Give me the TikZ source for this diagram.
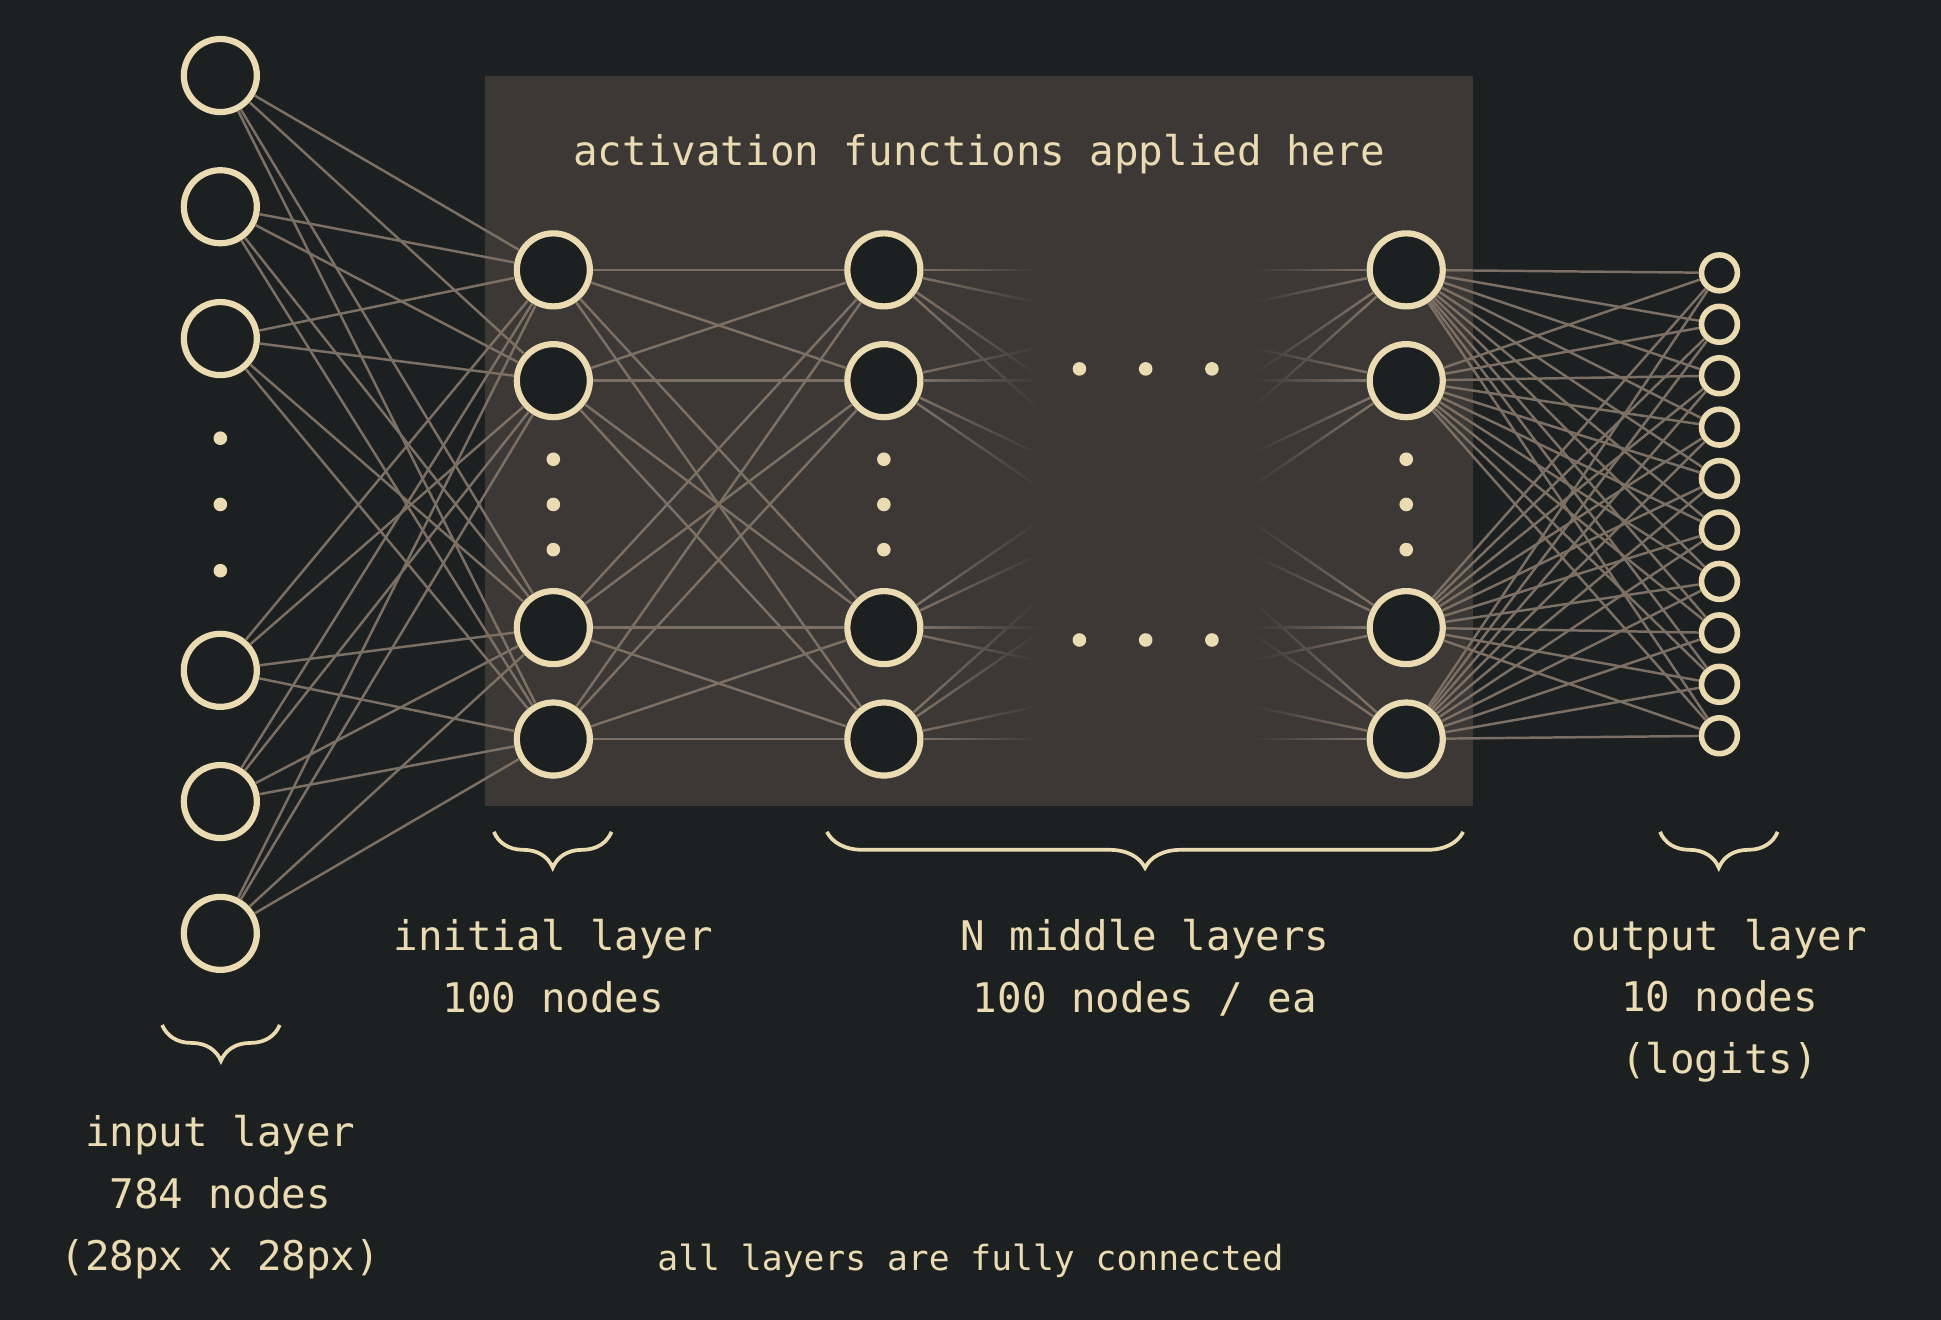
\documentclass[tikz,border=0pt]{standalone}
\usepackage{fontspec}
\setmainfont{DejaVu Sans Mono}
\usetikzlibrary{decorations.pathreplacing,fadings}

\definecolor{bgdark}{HTML}{1D2021}
\definecolor{boxgray}{HTML}{3C3836}
\definecolor{wirecol}{HTML}{7C6F64}
\definecolor{cream}{HTML}{EBDBB2}

\tikzfading[name=fade in right, left color=transparent!100, right color=transparent!0]
\tikzfading[name=fade out right, left color=transparent!0, right color=transparent!100]

\begin{document}
\begin{tikzpicture}[x=1pt,y=-1pt,
  neuron/.style={circle,draw=cream,fill=bgdark,line width=5pt,minimum size=59pt,inner sep=0pt},
  logit/.style={circle,draw=cream,fill=bgdark,line width=4.5pt,minimum size=29pt,inner sep=0pt},
  wire/.style={draw=wirecol,line width=2pt},
  blob/.style={fill=cream},
  lbl/.style={text=cream,font=\fontsize{33}{50}\selectfont,align=center,inner sep=0pt},
  curly/.style={draw=cream,line width=3pt,decorate,decoration={brace,mirror,amplitude=29pt}}]

% background and hidden-layer box
\fill[bgdark] (0,0) rectangle (1568,1066.3);
\fill[boxgray] (392,61.5) rectangle (1190,651.5);
\node[lbl,anchor=base] (title) at (791,134) {activation functions applied here};

% layers
\foreach \y [count=\i] in {61,167,273.5,541.5,647.5,754}
  \node[neuron] (in-\i) at (178,\y) {};
\foreach \y [count=\i] in {218,307.5,507,597}{
  \node[neuron] (ini-\i) at (447,\y) {};
  \node[neuron] (mida-\i) at (714,\y) {};
  \node[neuron] (midb-\i) at (1136,\y) {};
}
\foreach \i in {1,...,10}
  \node[logit] (out-\i) at (1389,{220.4+41.55*(\i-1)}) {};

% connections
\foreach \i in {1,...,6}
  \foreach \j in {1,...,4}
    \draw[wire] (in-\i) -- (ini-\j);
\foreach \i in {1,...,4}
  \foreach \j in {1,...,4}{
    \draw[wire] (ini-\i) -- (mida-\j);
    \draw[wire] (mida-\i) -- (midb-\j);
  }
\foreach \i in {1,...,4}
  \foreach \j in {1,...,10}
    \draw[wire] (midb-\i) -- (out-\j);

% fade the middle connections out
\fill[boxgray,path fading=fade in right] (748,190) rectangle (840,630);
\fill[boxgray] (840,190) rectangle (1012,630);
\fill[boxgray,path fading=fade out right] (1012,190) rectangle (1102,630);

% dots
\foreach \y in {354,407.5,461}
  \fill[blob] (178,\y) circle (5.5);
\foreach \x in {447,714,1136}
  \foreach \y in {371,407.5,444}
    \fill[blob] (\x,\y) circle (5.5);
\foreach \x in {872,925.5,979}{
  \fill[blob] (\x,298) circle (5.5);
  \fill[blob] (\x,517) circle (5.5);
}

% braces
\draw[curly] (131,828) -- (226,828);
\draw[curly] (399,672) -- (494,672);
\draw[curly] (668,672) -- (1182,672);
\draw[curly] (1341,672) -- (1436,672);

% labels (base = last line)
\node[lbl,anchor=base] (lblin) at (178,1026) {input layer\\784 nodes\\(28px x 28px)};
\node[lbl,anchor=base] (lblini) at (447,818) {initial layer\\100 nodes};
\node[lbl,anchor=base] (lblmid) at (925,818) {N middle layers\\100 nodes / ea};
\node[lbl,anchor=base] (lblout) at (1389,867.5) {output layer\\10 nodes\\(logits)};
\node[text=cream,font=\fontsize{28}{34}\selectfont,anchor=base,inner sep=0pt] (note) at (784,1026) {all layers are fully connected};
\end{tikzpicture}
\end{document}
